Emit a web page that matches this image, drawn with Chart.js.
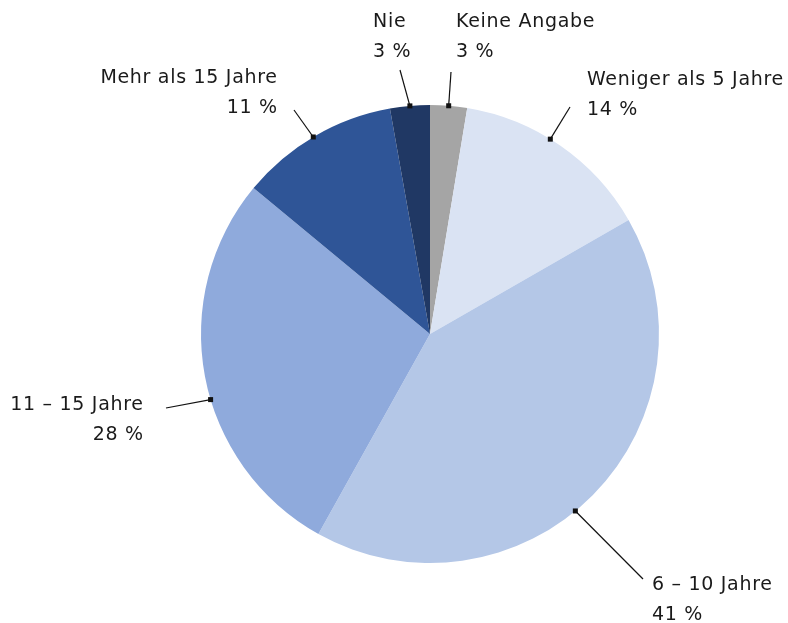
<!DOCTYPE html>
<html>
<head>
<meta charset="utf-8">
<script src="https://cdn.jsdelivr.net/npm/chart.js@4"></script>
<style>
  html, body { margin: 0; padding: 0; background: #fff; }
  #wrap { width: 788px; height: 623px; }
</style>
</head>
<body>
<div id="wrap"><canvas id="pie"></canvas></div>
<script>
const categories = ['Keine Angabe', 'Weniger als 5 Jahre', '6 – 10 Jahre', '11 – 15 Jahre', 'Mehr als 15 Jahre', 'Nie'];
const shares = [2.6, 14.1, 41.4, 27.9, 11.2, 2.8];
const colors = ['#a5a5a5', '#dae3f3', '#b4c7e7', '#8faadc', '#2f5597', '#203864'];

// label layout: where the text sits and where along the slice the leader line touches
const labelLayout = [
    { x: 456, y: 22, align: 'left',  lineFrom: [451, 72],  frac: 0.5 },
    { x: 587, y: 80, align: 'left',  lineFrom: [570, 107], frac: 0.44 },
    { x: 652, y: 585, align: 'left', lineFrom: [643, 579], frac: 0.54 },
    { x: 143, y: 405, align: 'right', lineFrom: [166, 408], frac: 0.44 },
    { x: 277, y: 78, align: 'right', lineFrom: [294, 110], frac: 0.49 },
    { x: 373, y: 22, align: 'left',  lineFrom: [400, 70],  frac: 0.5 }
];

const calloutLabels = {
    id: 'calloutLabels',
    afterDraw(chart) {
        const ctx = chart.ctx;
        const arcs = chart.getDatasetMeta(0).data;
        ctx.save();
        ctx.font = '19px "DejaVu Sans", sans-serif';
        ctx.letterSpacing = '0.7px';
        ctx.strokeStyle = '#111';
        ctx.lineWidth = 1.2;
        ctx.textBaseline = 'middle';
        arcs.forEach((arc, i) => {
            const lay = labelLayout[i];
            const p = arc.getProps(['x', 'y', 'startAngle', 'endAngle', 'outerRadius'], true);
            const a = p.startAngle + (p.endAngle - p.startAngle) * lay.frac;
            const ax = p.x + Math.cos(a) * p.outerRadius;
            const ay = p.y + Math.sin(a) * p.outerRadius;
            ctx.beginPath();
            ctx.moveTo(lay.lineFrom[0], lay.lineFrom[1]);
            ctx.lineTo(ax, ay);
            ctx.stroke();
            ctx.fillStyle = '#111';
            ctx.fillRect(ax - 2.5, ay - 2.5, 5, 5);
            ctx.fillStyle = '#1a1a1a';
            ctx.textAlign = lay.align;
            // trailing letter spacing shifts right-aligned text; compensate
            const shift = lay.align === 'right' ? 0.7 : 0;
            ctx.fillText(categories[i], lay.x + shift, lay.y);
            ctx.fillText(Math.round(shares[i]) + ' %', lay.x + shift, lay.y + 30);
        });
        ctx.restore();
    }
};

new Chart(document.getElementById('pie'), {
    type: 'pie',
    data: {
        labels: categories,
        datasets: [{
            data: shares,
            backgroundColor: colors,
            borderWidth: 0
        }]
    },
    options: {
        responsive: true,
        maintainAspectRatio: false,
        animation: false,
        layout: { padding: { left: 201, right: 129, top: 104, bottom: 59 } },
        plugins: {
            legend: { display: false },
            tooltip: { enabled: false }
        }
    },
    plugins: [calloutLabels]
});
</script>
</body>
</html>
